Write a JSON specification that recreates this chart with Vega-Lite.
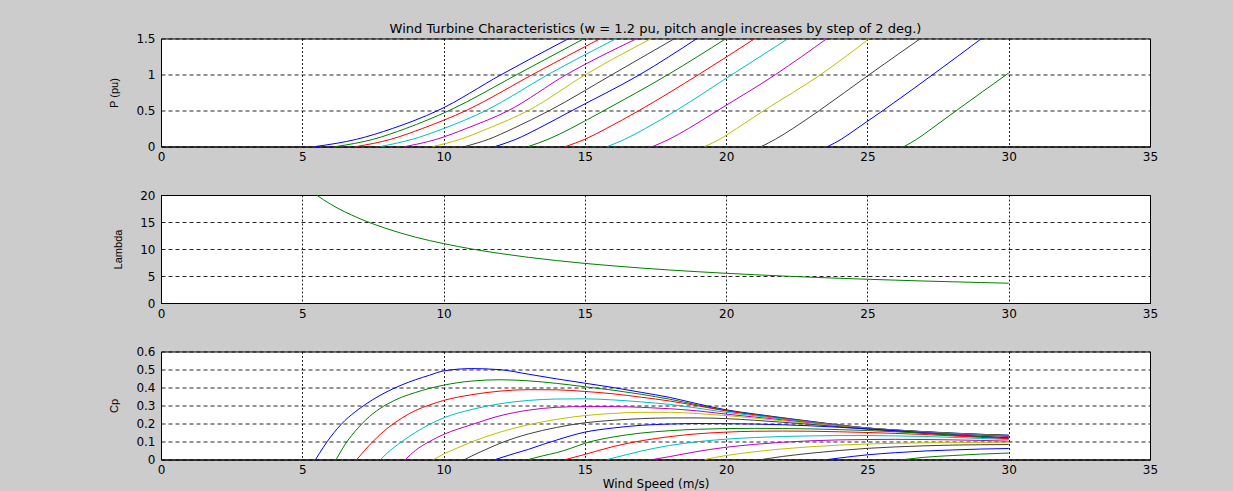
{
  "$schema": "https://vega.github.io/schema/vega-lite/v6.json",
  "background": "#cccccc",
  "padding": {"left": 108, "top": 22.5, "right": 76, "bottom": 4},
  "spacing": 48.5,
  "bounds": "flush",
  "datasets": {
    "p": [
      {"pitch": 0, "v": 5.47, "P": 0}, {"pitch": 0, "v": 6.92, "P": 0.1}, {"pitch": 0, "v": 8.19, "P": 0.25}, {"pitch": 0, "v": 9.8, "P": 0.5}, {"pitch": 0, "v": 12.05, "P": 1}, {"pitch": 0, "v": 14.43, "P": 1.5},
      {"pitch": 2, "v": 6.2, "P": 0}, {"pitch": 2, "v": 7.51, "P": 0.1}, {"pitch": 2, "v": 8.66, "P": 0.25}, {"pitch": 2, "v": 10.2, "P": 0.5}, {"pitch": 2, "v": 12.6, "P": 1}, {"pitch": 2, "v": 14.98, "P": 1.5},
      {"pitch": 4, "v": 6.93, "P": 0}, {"pitch": 4, "v": 8.13, "P": 0.1}, {"pitch": 4, "v": 9.25, "P": 0.25}, {"pitch": 4, "v": 10.8, "P": 0.5}, {"pitch": 4, "v": 13.15, "P": 1}, {"pitch": 4, "v": 15.55, "P": 1.5},
      {"pitch": 6, "v": 7.77, "P": 0}, {"pitch": 6, "v": 8.89, "P": 0.1}, {"pitch": 6, "v": 10.01, "P": 0.25}, {"pitch": 6, "v": 11.5, "P": 0.5}, {"pitch": 6, "v": 13.7, "P": 1}, {"pitch": 6, "v": 16.12, "P": 1.5},
      {"pitch": 8, "v": 8.65, "P": 0}, {"pitch": 8, "v": 9.75, "P": 0.1}, {"pitch": 8, "v": 10.8, "P": 0.25}, {"pitch": 8, "v": 12.3, "P": 0.5}, {"pitch": 8, "v": 14.35, "P": 1}, {"pitch": 8, "v": 16.85, "P": 1.5},
      {"pitch": 10, "v": 9.62, "P": 0}, {"pitch": 10, "v": 10.59, "P": 0.1}, {"pitch": 10, "v": 11.57, "P": 0.25}, {"pitch": 10, "v": 13.0, "P": 0.5}, {"pitch": 10, "v": 15.03, "P": 1}, {"pitch": 10, "v": 17.35, "P": 1.5},
      {"pitch": 12, "v": 10.75, "P": 0}, {"pitch": 12, "v": 11.59, "P": 0.1}, {"pitch": 12, "v": 12.46, "P": 0.25}, {"pitch": 12, "v": 13.75, "P": 0.5}, {"pitch": 12, "v": 15.97, "P": 1}, {"pitch": 12, "v": 18.18, "P": 1.5},
      {"pitch": 14, "v": 11.83, "P": 0}, {"pitch": 14, "v": 12.56, "P": 0.1}, {"pitch": 14, "v": 13.35, "P": 0.25}, {"pitch": 14, "v": 14.55, "P": 0.5}, {"pitch": 14, "v": 16.95, "P": 1}, {"pitch": 14, "v": 18.97, "P": 1.5},
      {"pitch": 16, "v": 13.0, "P": 0}, {"pitch": 16, "v": 13.7, "P": 0.1}, {"pitch": 16, "v": 14.5, "P": 0.25}, {"pitch": 16, "v": 15.68, "P": 0.5}, {"pitch": 16, "v": 17.95, "P": 1}, {"pitch": 16, "v": 20.0, "P": 1.5},
      {"pitch": 18, "v": 14.32, "P": 0}, {"pitch": 18, "v": 15.0, "P": 0.1}, {"pitch": 18, "v": 15.76, "P": 0.25}, {"pitch": 18, "v": 16.92, "P": 0.5}, {"pitch": 18, "v": 19.03, "P": 1}, {"pitch": 18, "v": 21.02, "P": 1.5},
      {"pitch": 20, "v": 15.8, "P": 0}, {"pitch": 20, "v": 16.41, "P": 0.1}, {"pitch": 20, "v": 17.14, "P": 0.25}, {"pitch": 20, "v": 18.23, "P": 0.5}, {"pitch": 20, "v": 20.21, "P": 1}, {"pitch": 20, "v": 22.2, "P": 1.5},
      {"pitch": 22, "v": 17.4, "P": 0}, {"pitch": 22, "v": 17.98, "P": 0.1}, {"pitch": 22, "v": 18.67, "P": 0.25}, {"pitch": 22, "v": 19.7, "P": 0.5}, {"pitch": 22, "v": 21.75, "P": 1}, {"pitch": 22, "v": 23.57, "P": 1.5},
      {"pitch": 24, "v": 19.24, "P": 0}, {"pitch": 24, "v": 19.77, "P": 0.1}, {"pitch": 24, "v": 20.37, "P": 0.25}, {"pitch": 24, "v": 21.34, "P": 0.5}, {"pitch": 24, "v": 23.35, "P": 1}, {"pitch": 24, "v": 25.07, "P": 1.5},
      {"pitch": 26, "v": 21.25, "P": 0}, {"pitch": 26, "v": 21.74, "P": 0.1}, {"pitch": 26, "v": 22.36, "P": 0.25}, {"pitch": 26, "v": 23.3, "P": 0.5}, {"pitch": 26, "v": 25.07, "P": 1}, {"pitch": 26, "v": 26.88, "P": 1.5},
      {"pitch": 28, "v": 23.6, "P": 0}, {"pitch": 28, "v": 24.07, "P": 0.1}, {"pitch": 28, "v": 24.63, "P": 0.25}, {"pitch": 28, "v": 25.55, "P": 0.5}, {"pitch": 28, "v": 27.32, "P": 1}, {"pitch": 28, "v": 29.04, "P": 1.5},
      {"pitch": 30, "v": 26.3, "P": 0}, {"pitch": 30, "v": 26.74, "P": 0.1}, {"pitch": 30, "v": 27.28, "P": 0.25}, {"pitch": 30, "v": 28.15, "P": 0.5}, {"pitch": 30, "v": 30, "P": 1.02}
    ],
    "lam": [
      {"v": 5.5, "lambda": 20}, {"v": 6, "lambda": 18.3}, {"v": 7, "lambda": 15.7}, {"v": 8, "lambda": 13.75}, {"v": 9, "lambda": 12.2}, {"v": 10, "lambda": 11}, {"v": 11, "lambda": 10}, {"v": 12, "lambda": 9.17}, {"v": 13, "lambda": 8.46}, {"v": 14, "lambda": 7.86}, {"v": 15, "lambda": 7.33}, {"v": 16, "lambda": 6.88}, {"v": 17, "lambda": 6.47}, {"v": 18, "lambda": 6.11}, {"v": 19, "lambda": 5.79}, {"v": 20, "lambda": 5.5}, {"v": 21, "lambda": 5.24}, {"v": 22, "lambda": 5.0}, {"v": 23, "lambda": 4.78}, {"v": 24, "lambda": 4.58}, {"v": 25, "lambda": 4.4}, {"v": 26, "lambda": 4.23}, {"v": 27, "lambda": 4.07}, {"v": 28, "lambda": 3.93}, {"v": 29, "lambda": 3.79}, {"v": 30, "lambda": 3.67}
    ],
    "cp": [
      {"pitch": 0, "v": 5.47, "Cp": 0}, {"pitch": 0, "v": 6, "Cp": 0.125}, {"pitch": 0, "v": 6.5, "Cp": 0.215}, {"pitch": 0, "v": 7, "Cp": 0.28}, {"pitch": 0, "v": 7.5, "Cp": 0.333}, {"pitch": 0, "v": 8, "Cp": 0.377}, {"pitch": 0, "v": 8.5, "Cp": 0.413}, {"pitch": 0, "v": 9, "Cp": 0.443}, {"pitch": 0, "v": 9.5, "Cp": 0.468}, {"pitch": 0, "v": 10, "Cp": 0.492}, {"pitch": 0, "v": 11, "Cp": 0.505}, {"pitch": 0, "v": 12, "Cp": 0.499}, {"pitch": 0, "v": 13, "Cp": 0.474}, {"pitch": 0, "v": 14, "Cp": 0.448}, {"pitch": 0, "v": 15, "Cp": 0.424}, {"pitch": 0, "v": 16, "Cp": 0.4}, {"pitch": 0, "v": 17, "Cp": 0.373}, {"pitch": 0, "v": 18, "Cp": 0.345}, {"pitch": 0, "v": 19, "Cp": 0.309}, {"pitch": 0, "v": 20, "Cp": 0.276}, {"pitch": 0, "v": 21, "Cp": 0.253}, {"pitch": 0, "v": 22, "Cp": 0.232}, {"pitch": 0, "v": 23, "Cp": 0.212}, {"pitch": 0, "v": 24, "Cp": 0.192}, {"pitch": 0, "v": 25, "Cp": 0.175}, {"pitch": 0, "v": 26, "Cp": 0.164}, {"pitch": 0, "v": 27, "Cp": 0.155}, {"pitch": 0, "v": 28, "Cp": 0.147}, {"pitch": 0, "v": 29, "Cp": 0.14}, {"pitch": 0, "v": 30, "Cp": 0.135},
      {"pitch": 2, "v": 6.2, "Cp": 0}, {"pitch": 2, "v": 6.5, "Cp": 0.08}, {"pitch": 2, "v": 7, "Cp": 0.18}, {"pitch": 2, "v": 7.5, "Cp": 0.255}, {"pitch": 2, "v": 8, "Cp": 0.307}, {"pitch": 2, "v": 8.5, "Cp": 0.345}, {"pitch": 2, "v": 9, "Cp": 0.372}, {"pitch": 2, "v": 9.5, "Cp": 0.395}, {"pitch": 2, "v": 10, "Cp": 0.413}, {"pitch": 2, "v": 11, "Cp": 0.436}, {"pitch": 2, "v": 12, "Cp": 0.443}, {"pitch": 2, "v": 13, "Cp": 0.437}, {"pitch": 2, "v": 14, "Cp": 0.423}, {"pitch": 2, "v": 15, "Cp": 0.404}, {"pitch": 2, "v": 16, "Cp": 0.385}, {"pitch": 2, "v": 17, "Cp": 0.362}, {"pitch": 2, "v": 18, "Cp": 0.335}, {"pitch": 2, "v": 19, "Cp": 0.303}, {"pitch": 2, "v": 20, "Cp": 0.272}, {"pitch": 2, "v": 21, "Cp": 0.25}, {"pitch": 2, "v": 22, "Cp": 0.23}, {"pitch": 2, "v": 23, "Cp": 0.21}, {"pitch": 2, "v": 24, "Cp": 0.191}, {"pitch": 2, "v": 25, "Cp": 0.175}, {"pitch": 2, "v": 26, "Cp": 0.164}, {"pitch": 2, "v": 27, "Cp": 0.154}, {"pitch": 2, "v": 28, "Cp": 0.146}, {"pitch": 2, "v": 29, "Cp": 0.14}, {"pitch": 2, "v": 30, "Cp": 0.134},
      {"pitch": 4, "v": 6.93, "Cp": 0}, {"pitch": 4, "v": 7.5, "Cp": 0.1}, {"pitch": 4, "v": 8, "Cp": 0.172}, {"pitch": 4, "v": 8.5, "Cp": 0.228}, {"pitch": 4, "v": 9, "Cp": 0.272}, {"pitch": 4, "v": 9.5, "Cp": 0.303}, {"pitch": 4, "v": 10, "Cp": 0.328}, {"pitch": 4, "v": 11, "Cp": 0.36}, {"pitch": 4, "v": 12, "Cp": 0.38}, {"pitch": 4, "v": 13, "Cp": 0.388}, {"pitch": 4, "v": 14, "Cp": 0.387}, {"pitch": 4, "v": 15, "Cp": 0.378}, {"pitch": 4, "v": 16, "Cp": 0.365}, {"pitch": 4, "v": 17, "Cp": 0.346}, {"pitch": 4, "v": 18, "Cp": 0.325}, {"pitch": 4, "v": 19, "Cp": 0.298}, {"pitch": 4, "v": 20, "Cp": 0.27}, {"pitch": 4, "v": 21, "Cp": 0.248}, {"pitch": 4, "v": 22, "Cp": 0.228}, {"pitch": 4, "v": 23, "Cp": 0.209}, {"pitch": 4, "v": 24, "Cp": 0.19}, {"pitch": 4, "v": 25, "Cp": 0.175}, {"pitch": 4, "v": 26, "Cp": 0.163}, {"pitch": 4, "v": 27, "Cp": 0.153}, {"pitch": 4, "v": 28, "Cp": 0.145}, {"pitch": 4, "v": 29, "Cp": 0.138}, {"pitch": 4, "v": 30, "Cp": 0.132},
      {"pitch": 6, "v": 7.77, "Cp": 0}, {"pitch": 6, "v": 8, "Cp": 0.035}, {"pitch": 6, "v": 8.5, "Cp": 0.097}, {"pitch": 6, "v": 9, "Cp": 0.15}, {"pitch": 6, "v": 9.5, "Cp": 0.195}, {"pitch": 6, "v": 10, "Cp": 0.231}, {"pitch": 6, "v": 11, "Cp": 0.278}, {"pitch": 6, "v": 12, "Cp": 0.31}, {"pitch": 6, "v": 13, "Cp": 0.328}, {"pitch": 6, "v": 14, "Cp": 0.336}, {"pitch": 6, "v": 15, "Cp": 0.337}, {"pitch": 6, "v": 16, "Cp": 0.331}, {"pitch": 6, "v": 17, "Cp": 0.32}, {"pitch": 6, "v": 18, "Cp": 0.306}, {"pitch": 6, "v": 19, "Cp": 0.285}, {"pitch": 6, "v": 20, "Cp": 0.262}, {"pitch": 6, "v": 21, "Cp": 0.244}, {"pitch": 6, "v": 22, "Cp": 0.225}, {"pitch": 6, "v": 23, "Cp": 0.207}, {"pitch": 6, "v": 24, "Cp": 0.189}, {"pitch": 6, "v": 25, "Cp": 0.174}, {"pitch": 6, "v": 26, "Cp": 0.162}, {"pitch": 6, "v": 27, "Cp": 0.152}, {"pitch": 6, "v": 28, "Cp": 0.144}, {"pitch": 6, "v": 29, "Cp": 0.137}, {"pitch": 6, "v": 30, "Cp": 0.13},
      {"pitch": 8, "v": 8.65, "Cp": 0}, {"pitch": 8, "v": 9, "Cp": 0.05}, {"pitch": 8, "v": 9.5, "Cp": 0.1}, {"pitch": 8, "v": 10, "Cp": 0.139}, {"pitch": 8, "v": 11, "Cp": 0.194}, {"pitch": 8, "v": 12, "Cp": 0.243}, {"pitch": 8, "v": 13, "Cp": 0.274}, {"pitch": 8, "v": 14, "Cp": 0.29}, {"pitch": 8, "v": 15, "Cp": 0.294}, {"pitch": 8, "v": 16, "Cp": 0.294}, {"pitch": 8, "v": 17, "Cp": 0.29}, {"pitch": 8, "v": 18, "Cp": 0.282}, {"pitch": 8, "v": 19, "Cp": 0.27}, {"pitch": 8, "v": 20, "Cp": 0.252}, {"pitch": 8, "v": 21, "Cp": 0.236}, {"pitch": 8, "v": 22, "Cp": 0.22}, {"pitch": 8, "v": 23, "Cp": 0.203}, {"pitch": 8, "v": 24, "Cp": 0.187}, {"pitch": 8, "v": 25, "Cp": 0.172}, {"pitch": 8, "v": 26, "Cp": 0.16}, {"pitch": 8, "v": 27, "Cp": 0.15}, {"pitch": 8, "v": 28, "Cp": 0.141}, {"pitch": 8, "v": 29, "Cp": 0.134}, {"pitch": 8, "v": 30, "Cp": 0.127},
      {"pitch": 10, "v": 9.65, "Cp": 0}, {"pitch": 10, "v": 10, "Cp": 0.03}, {"pitch": 10, "v": 10.5, "Cp": 0.065}, {"pitch": 10, "v": 11, "Cp": 0.098}, {"pitch": 10, "v": 12, "Cp": 0.152}, {"pitch": 10, "v": 13, "Cp": 0.193}, {"pitch": 10, "v": 14, "Cp": 0.223}, {"pitch": 10, "v": 15, "Cp": 0.244}, {"pitch": 10, "v": 16, "Cp": 0.256}, {"pitch": 10, "v": 17, "Cp": 0.262}, {"pitch": 10, "v": 18, "Cp": 0.262}, {"pitch": 10, "v": 19, "Cp": 0.255}, {"pitch": 10, "v": 20, "Cp": 0.244}, {"pitch": 10, "v": 21, "Cp": 0.23}, {"pitch": 10, "v": 22, "Cp": 0.215}, {"pitch": 10, "v": 23, "Cp": 0.2}, {"pitch": 10, "v": 24, "Cp": 0.185}, {"pitch": 10, "v": 25, "Cp": 0.17}, {"pitch": 10, "v": 26, "Cp": 0.158}, {"pitch": 10, "v": 27, "Cp": 0.147}, {"pitch": 10, "v": 28, "Cp": 0.137}, {"pitch": 10, "v": 29, "Cp": 0.129}, {"pitch": 10, "v": 30, "Cp": 0.122},
      {"pitch": 12, "v": 10.75, "Cp": 0}, {"pitch": 12, "v": 11, "Cp": 0.02}, {"pitch": 12, "v": 11.5, "Cp": 0.056}, {"pitch": 12, "v": 12, "Cp": 0.09}, {"pitch": 12, "v": 13, "Cp": 0.142}, {"pitch": 12, "v": 14, "Cp": 0.178}, {"pitch": 12, "v": 15, "Cp": 0.204}, {"pitch": 12, "v": 16, "Cp": 0.218}, {"pitch": 12, "v": 17, "Cp": 0.227}, {"pitch": 12, "v": 18, "Cp": 0.231}, {"pitch": 12, "v": 19, "Cp": 0.231}, {"pitch": 12, "v": 20, "Cp": 0.227}, {"pitch": 12, "v": 21, "Cp": 0.218}, {"pitch": 12, "v": 22, "Cp": 0.207}, {"pitch": 12, "v": 23, "Cp": 0.195}, {"pitch": 12, "v": 24, "Cp": 0.182}, {"pitch": 12, "v": 25, "Cp": 0.169}, {"pitch": 12, "v": 26, "Cp": 0.157}, {"pitch": 12, "v": 27, "Cp": 0.146}, {"pitch": 12, "v": 28, "Cp": 0.136}, {"pitch": 12, "v": 29, "Cp": 0.127}, {"pitch": 12, "v": 30, "Cp": 0.119},
      {"pitch": 14, "v": 11.83, "Cp": 0}, {"pitch": 14, "v": 12.5, "Cp": 0.033}, {"pitch": 14, "v": 13, "Cp": 0.056}, {"pitch": 14, "v": 13.5, "Cp": 0.083}, {"pitch": 14, "v": 14, "Cp": 0.108}, {"pitch": 14, "v": 15, "Cp": 0.152}, {"pitch": 14, "v": 16, "Cp": 0.175}, {"pitch": 14, "v": 17, "Cp": 0.19}, {"pitch": 14, "v": 18, "Cp": 0.197}, {"pitch": 14, "v": 19, "Cp": 0.2}, {"pitch": 14, "v": 20, "Cp": 0.199}, {"pitch": 14, "v": 21, "Cp": 0.197}, {"pitch": 14, "v": 22, "Cp": 0.193}, {"pitch": 14, "v": 23, "Cp": 0.187}, {"pitch": 14, "v": 24, "Cp": 0.179}, {"pitch": 14, "v": 25, "Cp": 0.17}, {"pitch": 14, "v": 26, "Cp": 0.16}, {"pitch": 14, "v": 27, "Cp": 0.148}, {"pitch": 14, "v": 28, "Cp": 0.137}, {"pitch": 14, "v": 29, "Cp": 0.128}, {"pitch": 14, "v": 30, "Cp": 0.12},
      {"pitch": 16, "v": 13, "Cp": 0}, {"pitch": 16, "v": 13.5, "Cp": 0.02}, {"pitch": 16, "v": 14, "Cp": 0.038}, {"pitch": 16, "v": 14.5, "Cp": 0.062}, {"pitch": 16, "v": 15, "Cp": 0.09}, {"pitch": 16, "v": 16, "Cp": 0.125}, {"pitch": 16, "v": 17, "Cp": 0.147}, {"pitch": 16, "v": 18, "Cp": 0.16}, {"pitch": 16, "v": 19, "Cp": 0.168}, {"pitch": 16, "v": 20, "Cp": 0.172}, {"pitch": 16, "v": 21, "Cp": 0.173}, {"pitch": 16, "v": 22, "Cp": 0.172}, {"pitch": 16, "v": 23, "Cp": 0.17}, {"pitch": 16, "v": 24, "Cp": 0.166}, {"pitch": 16, "v": 25, "Cp": 0.161}, {"pitch": 16, "v": 26, "Cp": 0.154}, {"pitch": 16, "v": 27, "Cp": 0.146}, {"pitch": 16, "v": 28, "Cp": 0.137}, {"pitch": 16, "v": 29, "Cp": 0.127}, {"pitch": 16, "v": 30, "Cp": 0.117},
      {"pitch": 18, "v": 14.32, "Cp": 0}, {"pitch": 18, "v": 15, "Cp": 0.028}, {"pitch": 18, "v": 16, "Cp": 0.072}, {"pitch": 18, "v": 17, "Cp": 0.104}, {"pitch": 18, "v": 18, "Cp": 0.127}, {"pitch": 18, "v": 19, "Cp": 0.143}, {"pitch": 18, "v": 20, "Cp": 0.152}, {"pitch": 18, "v": 21, "Cp": 0.157}, {"pitch": 18, "v": 22, "Cp": 0.158}, {"pitch": 18, "v": 23, "Cp": 0.157}, {"pitch": 18, "v": 24, "Cp": 0.154}, {"pitch": 18, "v": 25, "Cp": 0.15}, {"pitch": 18, "v": 26, "Cp": 0.145}, {"pitch": 18, "v": 27, "Cp": 0.139}, {"pitch": 18, "v": 28, "Cp": 0.131}, {"pitch": 18, "v": 29, "Cp": 0.123}, {"pitch": 18, "v": 30, "Cp": 0.115},
      {"pitch": 20, "v": 15.8, "Cp": 0}, {"pitch": 20, "v": 16.5, "Cp": 0.028}, {"pitch": 20, "v": 17, "Cp": 0.047}, {"pitch": 20, "v": 18, "Cp": 0.078}, {"pitch": 20, "v": 19, "Cp": 0.099}, {"pitch": 20, "v": 20, "Cp": 0.113}, {"pitch": 20, "v": 21, "Cp": 0.122}, {"pitch": 20, "v": 22, "Cp": 0.128}, {"pitch": 20, "v": 23, "Cp": 0.131}, {"pitch": 20, "v": 24, "Cp": 0.133}, {"pitch": 20, "v": 25, "Cp": 0.133}, {"pitch": 20, "v": 26, "Cp": 0.131}, {"pitch": 20, "v": 27, "Cp": 0.128}, {"pitch": 20, "v": 28, "Cp": 0.123}, {"pitch": 20, "v": 29, "Cp": 0.117}, {"pitch": 20, "v": 30, "Cp": 0.111},
      {"pitch": 22, "v": 17.4, "Cp": 0}, {"pitch": 22, "v": 18, "Cp": 0.016}, {"pitch": 22, "v": 19, "Cp": 0.045}, {"pitch": 22, "v": 20, "Cp": 0.068}, {"pitch": 22, "v": 21, "Cp": 0.084}, {"pitch": 22, "v": 22, "Cp": 0.096}, {"pitch": 22, "v": 23, "Cp": 0.104}, {"pitch": 22, "v": 24, "Cp": 0.109}, {"pitch": 22, "v": 25, "Cp": 0.111}, {"pitch": 22, "v": 26, "Cp": 0.112}, {"pitch": 22, "v": 27, "Cp": 0.111}, {"pitch": 22, "v": 28, "Cp": 0.109}, {"pitch": 22, "v": 29, "Cp": 0.106}, {"pitch": 22, "v": 30, "Cp": 0.102},
      {"pitch": 24, "v": 19.24, "Cp": 0}, {"pitch": 24, "v": 20, "Cp": 0.022}, {"pitch": 24, "v": 21, "Cp": 0.043}, {"pitch": 24, "v": 22, "Cp": 0.059}, {"pitch": 24, "v": 23, "Cp": 0.071}, {"pitch": 24, "v": 24, "Cp": 0.08}, {"pitch": 24, "v": 25, "Cp": 0.086}, {"pitch": 24, "v": 26, "Cp": 0.09}, {"pitch": 24, "v": 27, "Cp": 0.093}, {"pitch": 24, "v": 28, "Cp": 0.094}, {"pitch": 24, "v": 29, "Cp": 0.094}, {"pitch": 24, "v": 30, "Cp": 0.093},
      {"pitch": 26, "v": 21.25, "Cp": 0}, {"pitch": 26, "v": 22, "Cp": 0.017}, {"pitch": 26, "v": 23, "Cp": 0.035}, {"pitch": 26, "v": 24, "Cp": 0.05}, {"pitch": 26, "v": 25, "Cp": 0.062}, {"pitch": 26, "v": 26, "Cp": 0.07}, {"pitch": 26, "v": 27, "Cp": 0.076}, {"pitch": 26, "v": 28, "Cp": 0.08}, {"pitch": 26, "v": 29, "Cp": 0.082}, {"pitch": 26, "v": 30, "Cp": 0.083},
      {"pitch": 28, "v": 23.6, "Cp": 0}, {"pitch": 28, "v": 24, "Cp": 0.008}, {"pitch": 28, "v": 25, "Cp": 0.026}, {"pitch": 28, "v": 26, "Cp": 0.038}, {"pitch": 28, "v": 27, "Cp": 0.047}, {"pitch": 28, "v": 28, "Cp": 0.053}, {"pitch": 28, "v": 29, "Cp": 0.058}, {"pitch": 28, "v": 30, "Cp": 0.061},
      {"pitch": 30, "v": 26.3, "Cp": 0}, {"pitch": 30, "v": 27, "Cp": 0.012}, {"pitch": 30, "v": 28, "Cp": 0.022}, {"pitch": 30, "v": 29, "Cp": 0.03}, {"pitch": 30, "v": 30, "Cp": 0.036}
    ]
  },
  "config": {
    "view": {"stroke": "#000000", "strokeWidth": 1, "fill": "#ffffff"},
    "axis": {
      "labelFont": "DejaVu Sans", "labelFontSize": 12, "labelColor": "#000000",
      "titleFont": "Liberation Sans", "titleFontWeight": "normal", "titleFontSize": 11, "titleColor": "#000000",
      "grid": true, "gridColor": "#000000", "gridOpacity": 0.85, "gridWidth": 1,
      "ticks": false, "domainColor": "#000000", "domainWidth": 1
    },
    "axisX": {"gridDash": [2, 2], "labelPadding": 5, "labelFlush": false},
    "axisY": {"gridDash": [4, 3], "labelPadding": 6, "titlePadding": 16},
    "line": {"strokeWidth": 1, "clip": true, "interpolate": "monotone"}
  },
  "vconcat": [
    {
      "width": 989, "height": 108,
      "title": {"text": "Wind Turbine Characteristics (w = 1.2 pu, pitch angle increases by step of 2 deg.)", "frame": "group", "anchor": "middle", "offset": -3.5, "font": "DejaVu Sans", "fontSize": 13, "fontWeight": "normal", "color": "#000000"},
      "data": {"name": "p"},
      "mark": {"type": "line"},
      "encoding": {
        "x": {"field": "v", "type": "quantitative", "scale": {"domain": [0, 35], "nice": false, "zero": false}, "axis": {"values": [0, 5, 10, 15, 20, 25, 30, 35], "title": null}},
        "y": {"field": "P", "type": "quantitative", "scale": {"domain": [0, 1.5], "nice": false}, "axis": {"values": [0, 0.5, 1, 1.5], "format": "~g", "title": "P (pu)"}},
        "color": {"field": "pitch", "type": "ordinal", "scale": {"domain": [0, 2, 4, 6, 8, 10, 12, 14, 16, 18, 20, 22, 24, 26, 28, 30], "range": ["#0000ff", "#008000", "#ff0000", "#00bfbf", "#bf00bf", "#bfbf00", "#404040", "#0000ff", "#008000", "#ff0000", "#00bfbf", "#bf00bf", "#bfbf00", "#404040", "#0000ff", "#008000"]}, "legend": null}
      }
    },
    {
      "width": 989, "height": 108,
      "data": {"name": "lam"},
      "mark": {"type": "line", "color": "#008000"},
      "encoding": {
        "x": {"field": "v", "type": "quantitative", "scale": {"domain": [0, 35], "nice": false, "zero": false}, "axis": {"values": [0, 5, 10, 15, 20, 25, 30, 35], "title": null}},
        "y": {"field": "lambda", "type": "quantitative", "scale": {"domain": [0, 20], "nice": false}, "axis": {"values": [0, 5, 10, 15, 20], "title": "Lambda"}}
      }
    },
    {
      "width": 989, "height": 108,
      "data": {"name": "cp"},
      "mark": {"type": "line"},
      "encoding": {
        "x": {"field": "v", "type": "quantitative", "scale": {"domain": [0, 35], "nice": false, "zero": false}, "axis": {"values": [0, 5, 10, 15, 20, 25, 30, 35], "title": "Wind Speed (m/s)", "titleFont": "DejaVu Sans", "titleFontSize": 12, "titlePadding": 3}},
        "y": {"field": "Cp", "type": "quantitative", "scale": {"domain": [0, 0.6], "nice": false}, "axis": {"values": [0, 0.1, 0.2, 0.3, 0.4, 0.5, 0.6], "format": "~g", "title": "Cp"}},
        "color": {"field": "pitch", "type": "ordinal", "scale": {"domain": [0, 2, 4, 6, 8, 10, 12, 14, 16, 18, 20, 22, 24, 26, 28, 30], "range": ["#0000ff", "#008000", "#ff0000", "#00bfbf", "#bf00bf", "#bfbf00", "#404040", "#0000ff", "#008000", "#ff0000", "#00bfbf", "#bf00bf", "#bfbf00", "#404040", "#0000ff", "#008000"]}, "legend": null}
      }
    }
  ]
}
